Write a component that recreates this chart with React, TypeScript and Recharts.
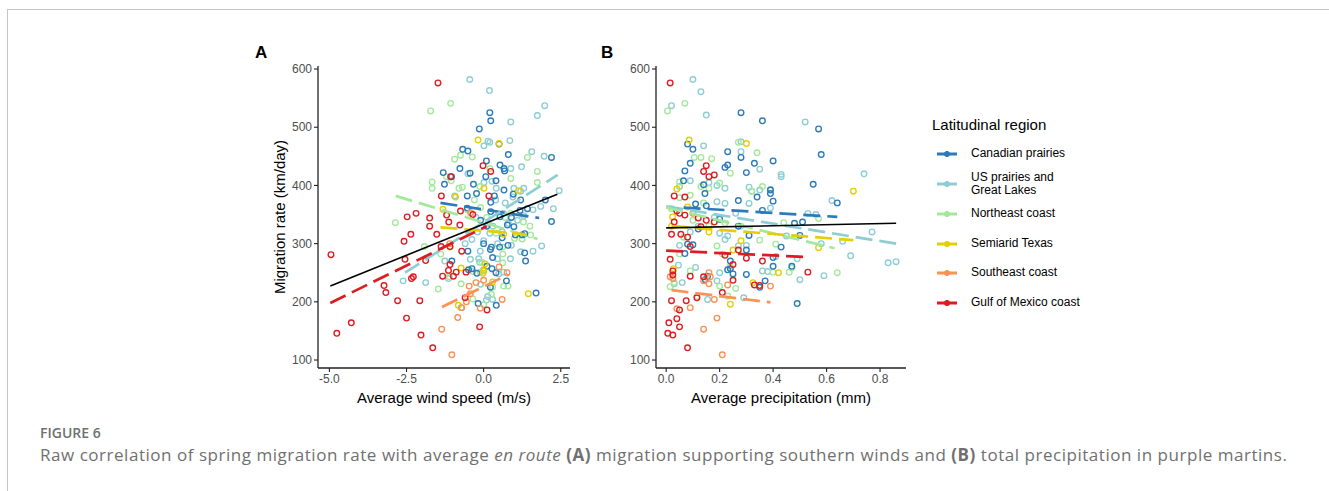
import React from "react";
import { ScatterChart, Scatter, XAxis, YAxis } from "recharts";

type Pt = [number, number];

// ---- wind speed panel (A) ----
const canadianWind: Pt[] = [
  [0.2, 525], [0.23, 511], [-0.14, 497], [0.5, 471], [-0.68, 462], [-0.51, 459], [0.8, 453], [2.2, 448],
  [0.09, 442], [-1.31, 422], [-0.77, 429], [0.53, 435], [0.66, 429], [0.68, 425], [-1.27, 402], [-1.04, 415],
  [-0.44, 421], [0.07, 415], [-0.33, 402], [0.4, 408], [-0.53, 382], [-0.53, 361], [-0.23, 386], [0.23, 371],
  [0.35, 382], [0.66, 392], [0.96, 385], [1.2, 375], [1.18, 357], [1.42, 360], [2.0, 375], [2.2, 338],
  [0.23, 355], [0.53, 346], [0.77, 332], [0.98, 329], [1.33, 317], [0.22, 290], [0.25, 294], [0.52, 294],
  [0.79, 297], [1.03, 315], [1.25, 315], [1.33, 284], [1.36, 270], [0.29, 276], [0.11, 261], [0.27, 257],
  [-0.38, 257], [-0.49, 255], [-0.22, 249], [0.4, 250], [0.74, 236], [0.22, 225], [-0.18, 197], [0.41, 194],
  [1.7, 215], [-1.03, 270], [-0.51, 287], [0.0, 300], [0.1, 330], [-0.1, 340], [0.6, 310], [0.9, 345],
];
const usWind: Pt[] = [
  [-0.45, 582], [0.19, 563], [1.98, 537], [1.74, 520], [0.88, 509], [0.85, 477], [0.14, 476], [0.01, 468],
  [0.2, 474], [1.56, 458], [1.23, 432], [1.96, 450], [0.88, 429], [-0.51, 420], [0.41, 395], [0.27, 407],
  [0.98, 395], [1.2, 390], [2.45, 391], [2.26, 360], [1.85, 364], [0.95, 380], [0.01, 405], [0.39, 375],
  [0.7, 370], [1.3, 395], [-0.94, 382], [0.64, 352], [1.6, 358], [1.3, 348], [1.88, 296], [1.6, 287],
  [0.9, 297], [0.87, 274], [0.45, 274], [-2.61, 236], [-1.88, 233], [-1.26, 270], [-0.43, 273], [-0.16, 274],
  [-0.13, 268], [-0.38, 307], [0.0, 305], [-0.11, 287], [0.13, 209], [0.29, 204], [0.09, 203], [-0.73, 190],
  [0.65, 251], [0.49, 248], [1.2, 286], [0.0, 255], [-1.14, 240], [-0.1, 230], [-0.25, 345], [0.15, 335],
  [0.6, 320], [0.3, 330], [-0.2, 320], [0.8, 335], [1.1, 340], [0.45, 300], [-0.6, 300], [0.2, 318],
];
const northeastWind: Pt[] = [
  [-1.72, 528], [-1.07, 541], [-0.94, 445], [-0.37, 449], [-0.75, 452], [1.42, 448], [1.74, 424], [0.88, 412],
  [1.74, 405], [-2.86, 336], [-1.67, 406], [-1.67, 395], [-1.2, 415], [-0.8, 395], [-0.69, 397], [-0.12, 398],
  [0.2, 429], [1.29, 337], [0.88, 352], [-0.1, 362], [-0.53, 358], [-1.05, 408], [-1.92, 295], [-1.39, 282],
  [-1.47, 222], [-1.11, 243], [-0.73, 231], [-0.35, 252], [-0.11, 251], [-0.05, 268], [0.25, 213], [0.29, 225],
  [0.62, 294], [0.62, 282], [0.62, 267], [0.79, 227], [0.65, 227], [1.0, 309], [1.25, 308], [1.52, 315],
  [-0.35, 205], [0.0, 195], [0.4, 318], [0.1, 345], [-0.3, 375], [0.7, 345], [1.5, 330],
];
const texasWind: Pt[] = [
  [-0.18, 478], [0.5, 472], [0.01, 395], [1.13, 391], [-0.91, 380], [-1.32, 359], [-1.09, 294], [-0.73, 258],
  [-0.02, 249], [0.0, 253], [0.29, 234], [-0.82, 194], [1.45, 214], [0.65, 316], [0.05, 265],
];
const southeastWind: Pt[] = [
  [-0.47, 227], [-0.43, 214], [-0.56, 200], [-0.71, 190], [-0.11, 189], [0.6, 204], [0.76, 250], [-0.84, 173],
  [-1.36, 153], [-1.03, 109], [0.0, 237], [-0.25, 233], [0.5, 260], [-0.42, 353], [-1.1, 300],
];
const gulfWind: Pt[] = [
  [-4.95, 281], [-4.76, 146], [-4.29, 164], [-3.23, 228], [-3.17, 216], [-2.79, 202], [-2.5, 172], [-2.55, 273],
  [-2.58, 304], [-2.36, 316], [-2.34, 240], [-2.28, 243], [-2.07, 202], [-2.03, 143], [-1.65, 121], [-1.88, 271],
  [-1.52, 316], [-1.33, 244], [-1.14, 254], [-1.09, 264], [-0.89, 251], [-0.98, 244], [-0.71, 287], [-0.57, 251],
  [-0.6, 207], [-0.13, 157], [0.11, 186], [-1.09, 295], [-1.38, 295], [-1.48, 576], [-1.07, 415], [0.23, 424],
  [-0.02, 434], [-1.37, 382], [0.17, 382], [-2.48, 346], [-2.19, 352], [-1.75, 344], [-1.75, 330], [-1.2, 349],
  [-1.13, 337], [-0.77, 332], [-0.75, 356], [-0.35, 350],
];

// fitted lines, wind (start, end)
const fitWind: Pt[][] = [
  [[-1.4, 370], [1.8, 344]],
  [[-2.55, 250], [2.4, 418]],
  [[-2.85, 382], [1.75, 308]],
  [[-1.4, 328], [1.4, 316]],
  [[-1.35, 191], [0.8, 247]],
  [[-4.97, 198], [0.1, 330]],
];
const overallWind: Pt[] = [[-4.97, 227], [2.39, 385]];

// ---- precipitation panel (B) ----
const canadianPrecip: Pt[] = [
  [0.28, 525], [0.36, 511], [0.57, 497], [0.58, 453], [0.55, 402], [0.64, 370], [0.4, 442], [0.23, 458],
  [0.28, 448], [0.33, 438], [0.23, 435], [0.22, 431], [0.3, 422], [0.08, 471], [0.1, 462], [0.09, 438],
  [0.07, 425], [0.065, 408], [0.14, 401], [0.145, 386], [0.11, 368], [0.15, 365], [0.27, 374], [0.34, 380],
  [0.36, 357], [0.39, 392], [0.39, 386], [0.4, 373], [0.48, 335], [0.51, 337], [0.07, 283], [0.08, 299],
  [0.31, 314], [0.5, 314], [0.3, 289], [0.24, 270], [0.24, 257], [0.23, 255], [0.25, 248], [0.4, 261],
  [0.4, 276], [0.47, 261], [0.3, 247], [0.37, 236], [0.35, 225], [0.146, 238], [0.155, 244], [0.49, 197],
  [0.43, 294], [0.1, 298], [0.12, 325], [0.2, 342], [0.27, 330],
];
const usPrecip: Pt[] = [
  [0.02, 537], [0.1, 582], [0.13, 561], [0.15, 521], [0.52, 509], [0.14, 468], [0.28, 475], [0.28, 458],
  [0.35, 428], [0.43, 419], [0.43, 415], [0.74, 420], [0.62, 374], [0.19, 400], [0.22, 395], [0.31, 397],
  [0.32, 390], [0.35, 392], [0.39, 393], [0.22, 369], [0.19, 372], [0.31, 369], [0.39, 361], [0.53, 352],
  [0.56, 350], [0.77, 320], [0.05, 398], [0.16, 405], [0.09, 408], [0.83, 267], [0.86, 269], [0.69, 279],
  [0.59, 245], [0.58, 300], [0.49, 274], [0.5, 238], [0.36, 253], [0.38, 252], [0.29, 207], [0.155, 204],
  [0.2, 250], [0.19, 236], [0.05, 297], [0.046, 263], [0.06, 233], [0.03, 231], [0.11, 259], [0.22, 307],
  [0.23, 313], [0.3, 297], [0.27, 296], [0.41, 278], [0.45, 313], [0.66, 304], [0.12, 330], [0.18, 345],
  [0.26, 352], [0.09, 320], [0.2, 318],
];
const northeastPrecip: Pt[] = [
  [0.005, 528], [0.07, 541], [0.105, 448], [0.13, 448], [0.17, 446], [0.24, 421], [0.34, 456], [0.27, 474],
  [0.05, 406], [0.05, 379], [0.09, 383], [0.13, 398], [0.16, 395], [0.2, 404], [0.36, 398], [0.32, 390],
  [0.44, 336], [0.57, 343], [0.05, 282], [0.19, 296], [0.21, 282], [0.41, 299], [0.64, 250], [0.46, 251],
  [0.47, 258], [0.2, 227], [0.26, 223], [0.23, 210], [0.015, 226], [0.03, 233], [0.115, 209], [0.4, 251],
  [0.35, 306], [0.24, 261], [0.065, 311], [0.09, 253], [0.02, 360], [0.16, 330], [0.1, 340], [0.22, 335],
  [0.14, 370], [0.28, 330],
];
const texasPrecip: Pt[] = [
  [0.086, 478], [0.3, 472], [0.04, 394], [0.7, 390], [0.08, 363], [0.024, 346], [0.28, 305], [0.57, 293],
  [0.027, 257], [0.42, 250], [0.325, 233], [0.24, 196], [0.25, 289], [0.16, 320], [0.02, 330],
];
const southeastPrecip: Pt[] = [
  [0.015, 243], [0.025, 240], [0.16, 250], [0.165, 243], [0.14, 236], [0.23, 229], [0.16, 231], [0.09, 190],
  [0.04, 188], [0.19, 172], [0.14, 153], [0.21, 109], [0.39, 227], [0.18, 204], [0.1, 352],
];
const gulfPrecip: Pt[] = [
  [0.015, 576], [0.03, 382], [0.07, 380], [0.15, 434], [0.14, 424], [0.16, 415], [0.18, 418], [0.05, 352],
  [0.07, 349], [0.04, 356], [0.03, 337], [0.15, 340], [0.18, 337], [0.12, 344], [0.13, 329], [0.02, 316],
  [0.055, 316], [0.08, 311], [0.09, 295], [0.015, 273], [0.025, 253], [0.025, 246], [0.09, 244], [0.14, 243],
  [0.25, 237], [0.02, 202], [0.075, 202], [0.05, 186], [0.115, 207], [0.21, 216], [0.01, 164], [0.04, 171],
  [0.05, 157], [0.006, 146], [0.025, 143], [0.08, 121], [0.25, 264], [0.3, 275], [0.33, 229], [0.36, 270],
  [0.53, 251], [0.27, 289], [0.22, 280], [0.35, 228],
];

const fitPrecip: Pt[][] = [
  [[0.065, 362], [0.64, 346]],
  [[0.0, 364], [0.86, 300]],
  [[0.0, 362], [0.63, 292]],
  [[0.02, 330], [0.7, 306]],
  [[0.02, 220], [0.39, 199]],
  [[0.0, 288], [0.53, 277]],
];
const overallPrecip: Pt[] = [[0.0, 327], [0.86, 335]];

const regions = [
  "Canadian prairies",
  "US prairies and\nGreat Lakes",
  "Northeast coast",
  "Semiarid Texas",
  "Southeast coast",
  "Gulf of Mexico coast",
];
const windTicks = [-5, -2.5, 0, 2.5];
const precipTicks = [0, 0.2, 0.4, 0.6, 0.8];
const rateTicks = [100, 200, 300, 400, 500, 600];

const palette = ["#2b7bba", "#8ecdd3", "#a4e89c", "#e6cf00", "#fb9155", "#dd1c22"];
const FONT = "'Liberation Sans', Arial, Helvetica, sans-serif";

const toXY = (arr: Pt[]) => arr.map(([x, y]) => ({ x, y }));

interface PanelProps {
  left: number;
  width: number;
  yAxisWidth: number;
  points: Pt[][];
  fits: Pt[][];
  overall: Pt[];
  xDomain: [number, number];
  xTicks: number[];
  xTitle: string;
  yTitle?: string;
}

function Panel({ left, width, yAxisWidth, points, fits, overall, xDomain, xTicks, xTitle, yTitle }: PanelProps) {
  const axisLine = { stroke: "#222", strokeWidth: 1.3 };
  // draw order roughly mixes colours like the original
  const order = [1, 2, 0, 3, 4, 5];
  return (
    <div style={{ position: "absolute", left, top: 40 }}>
      <ScatterChart width={width} height={380} margin={{ top: 26, right: 10, bottom: 0, left: 0 }}>
        <XAxis
          type="number"
          dataKey="x"
          domain={xDomain}
          ticks={xTicks}
          allowDataOverflow
          tickFormatter={(v: number) => v.toFixed(1)}
          axisLine={axisLine}
          tickLine={{ stroke: "#222", strokeWidth: 1.1 }}
          tickSize={4}
          tick={{ fill: "#4d4d4d", fontSize: 12 }}
          height={52}
          label={{ value: xTitle, position: "center", dy: 4, fill: "#000", fontSize: 15 }}
        />
        <YAxis
          type="number"
          dataKey="y"
          domain={[86.3, 605.2]}
          ticks={rateTicks}
          allowDataOverflow
          axisLine={axisLine}
          tickLine={{ stroke: "#222", strokeWidth: 1.1 }}
          tickSize={4}
          tick={{ fill: "#4d4d4d", fontSize: 12 }}
          width={yAxisWidth}
          label={
            yTitle
              ? { value: yTitle, angle: -90, position: "center", dx: 1, fill: "#000", fontSize: 15 }
              : undefined
          }
        />
        {order.map((i) => (
          <Scatter
            key={"p" + i}
            data={toXY(points[i])}
            isAnimationActive={false}
            shape={(p: any) => (
              <circle cx={p.cx} cy={p.cy} r={2.8} fill="none" stroke={palette[i]} strokeWidth={1.35} />
            )}
          />
        ))}
        {fits.map((seg, i) => (
          <Scatter
            key={"f" + i}
            data={toXY(seg)}
            isAnimationActive={false}
            legendType="none"
            line={{ stroke: palette[i], strokeWidth: 2.7, strokeDasharray: "17 7" }}
            shape={() => <g />}
          />
        ))}
        <Scatter
          data={toXY(overall)}
          isAnimationActive={false}
          legendType="none"
          line={{ stroke: "#000", strokeWidth: 1.6 }}
          shape={() => <g />}
        />
      </ScatterChart>
    </div>
  );
}

function LegendKey({ color }: { color: string }) {
  return (
    <svg width={20} height={8} style={{ position: "absolute", left: 0, top: -4 }}>
      <line x1={0} y1={4} x2={20} y2={4} stroke={color} strokeWidth={3} />
      <circle cx={10} cy={4} r={2.6} fill={color} stroke={color} strokeWidth={1} />
    </svg>
  );
}

const legendY = [154, 184, 214, 244, 273, 303];

export default function App() {
  return (
    <div
      style={{
        position: "absolute",
        left: 0,
        top: 0,
        width: 1329,
        height: 491,
        background: "#fff",
        overflow: "hidden",
        fontFamily: FONT,
      }}
    >
      <div
        style={{
          position: "absolute",
          left: 7,
          top: 9,
          width: 1340,
          height: 500,
          borderTop: "1px solid #c6c6c6",
          borderLeft: "1px solid #c6c6c6",
        }}
      />
      <div style={{ position: "absolute", left: 255, top: 44, fontSize: 17, lineHeight: "17px", fontWeight: 700 }}>A</div>
      <div style={{ position: "absolute", left: 601, top: 44, fontSize: 17, lineHeight: "17px", fontWeight: 700 }}>B</div>

      <Panel
        left={240}
        width={340}
        yAxisWidth={78}
        points={[canadianWind, usWind, northeastWind, texasWind, southeastWind, gulfWind]}
        fits={fitWind}
        overall={overallWind}
        xDomain={[-5.37, 2.8]}
        xTicks={windTicks}
        xTitle="Average wind speed (m/s)"
        yTitle="Migration rate (km/day)"
      />
      <Panel
        left={600}
        width={316}
        yAxisWidth={56}
        points={[canadianPrecip, usPrecip, northeastPrecip, texasPrecip, southeastPrecip, gulfPrecip]}
        fits={fitPrecip}
        overall={overallPrecip}
        xDomain={[-0.038, 0.897]}
        xTicks={precipTicks}
        xTitle="Average precipitation (mm)"
      />

      <div style={{ position: "absolute", left: 932, top: 117, fontSize: 15, lineHeight: "15px", color: "#000" }}>
        Latitudinal region
      </div>
      {regions.map((name, i) => {
        const lines = name.split("\n");
        const h = lines.length * 13.5;
        return (
          <div key={name} style={{ position: "absolute", left: 937, top: legendY[i] }}>
            <LegendKey color={palette[i]} />
            <div
              style={{
                position: "absolute",
                left: 34,
                top: -h / 2,
                fontSize: 12,
                lineHeight: "13.5px",
                whiteSpace: "pre",
                color: "#000",
              }}
            >
              {name}
            </div>
          </div>
        );
      })}

      <div
        style={{
          position: "absolute",
          left: 40,
          top: 426,
          fontFamily: "'Open Sans', sans-serif",
          fontSize: 14,
          lineHeight: "14px",
          fontWeight: 600,
          color: "#707070",
        }}
      >
        FIGURE 6
      </div>
      <div
        style={{
          position: "absolute",
          left: 40,
          top: 446,
          fontFamily: "'Open Sans', sans-serif",
          fontSize: 17,
          lineHeight: "17px",
          letterSpacing: 0.53,
          color: "#707070",
          whiteSpace: "nowrap",
        }}
      >
        Raw correlation of spring migration rate with average <i>en route</i> <b>(A)</b> migration supporting southern
        winds and <b>(B)</b> total precipitation in purple martins.
      </div>
    </div>
  );
}
